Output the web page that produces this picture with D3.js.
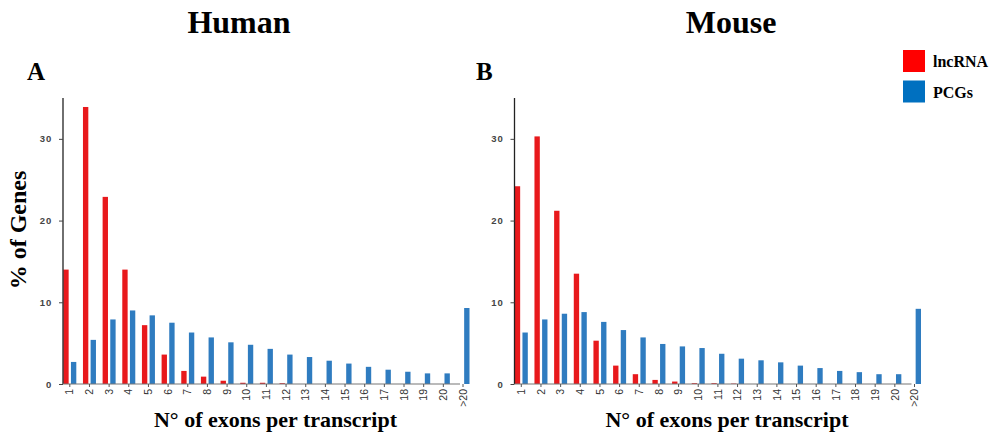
<!DOCTYPE html>
<html>
<head>
<meta charset="utf-8">
<script src="https://cdn.jsdelivr.net/npm/d3@7"></script>
<style>
  body { margin: 0; background: #fff; }
  .serif { font-family: "Liberation Serif", "Times New Roman", serif; font-weight: bold; fill: #000; }
</style>
</head>
<body>
<div class="canvas"></div>
<script>
// data
const categories = ['1','2','3','4','5','6','7','8','9','10','11','12','13','14','15','16','17','18','19','20','>20'];
const humanLnc = [14.0, 33.9, 22.9, 14.0, 7.2, 3.6, 1.6, 0.9, 0.4, 0.15, 0.15, 0.1, 0, 0, 0, 0, 0, 0, 0, 0, 0];
const humanPcg = [2.7, 5.4, 7.9, 9.0, 8.4, 7.5, 6.3, 5.7, 5.1, 4.8, 4.3, 3.6, 3.3, 2.85, 2.5, 2.1, 1.75, 1.5, 1.3, 1.3, 9.3];
const mouseLnc = [24.2, 30.3, 21.2, 13.5, 5.3, 2.25, 1.2, 0.5, 0.3, 0.1, 0.1, 0.05, 0, 0, 0, 0, 0, 0, 0, 0, 0];
const mousePcg = [6.3, 7.9, 8.6, 8.8, 7.6, 6.6, 5.7, 4.9, 4.6, 4.4, 3.7, 3.1, 2.9, 2.65, 2.25, 1.95, 1.6, 1.45, 1.2, 1.2, 9.2];
const yTicks = [0, 10, 20, 30];
const seriesNames = ['lncRNA', 'PCGs'];

const barColors = { lncRNA: '#e8191c', PCGs: '#2f7cc0' };
const legendColors = { lncRNA: '#ff0000', PCGs: '#0070c0' };

const W = 996, H = 434;
const svg = d3.select('.canvas').append('svg')
    .attr('width', W)
    .attr('height', H);

// shared y scale
const y = d3.scaleLinear().domain([0, 35]).range([384, 98]);

const panels = [
    { title: 'Human', letter: 'A', axisX: 63, lnc: humanLnc, pcg: humanPcg, titleX: 239, letterX: 27 },
    { title: 'Mouse', letter: 'B', axisX: 514.5, lnc: mouseLnc, pcg: mousePcg, titleX: 731, letterX: 476 }
];

panels.forEach(p => {
    const step = 19.66;
    const firstCenter = p.axisX + 6.8;
    const x = d3.scaleBand()
        .domain(categories)
        .range([firstCenter - step / 2, firstCenter - step / 2 + step * categories.length])
        .padding(0);
    const inner = d3.scaleBand()
        .domain(seriesNames)
        .range([step / 2 - 6.5, step / 2 + 6.5])
        .paddingInner(0.3);

    const g = svg.append('g');

    // bars
    const rows = categories.map((c, i) => ({ cat: c, lncRNA: p.lnc[i], PCGs: p.pcg[i] }));
    seriesNames.forEach(s => {
        g.selectAll('rect.' + s)
            .data(rows.filter(d => d[s] > 0))
            .enter().append('rect')
            .attr('class', s)
            .attr('x', d => x(d.cat) + inner(s))
            .attr('width', inner.bandwidth())
            .attr('y', d => y(d[s]))
            .attr('height', d => y(0) - y(d[s]))
            .attr('fill', barColors[s]);
    });

    // y axis
    const yAxis = d3.axisLeft(y).tickValues(yTicks).tickSize(4).tickPadding(7);
    const yg = g.append('g').attr('transform', `translate(${p.axisX},0)`).call(yAxis);
    yg.select('.domain').attr('d', `M0,${y(35)}V${y(0)}`).attr('stroke', '#222').attr('stroke-width', 1.3);
    yg.selectAll('.tick line').attr('stroke', '#444');
    yg.selectAll('.tick text')
        .attr('font-family', 'Liberation Sans, Arial, sans-serif')
        .attr('font-weight', 'bold')
        .attr('font-size', 9.5)
        .attr('letter-spacing', 0.8)
        .attr('fill', '#444');

    // x axis
    const xAxis = d3.axisBottom(x).tickSize(3).tickPadding(4);
    const xg = g.append('g').attr('transform', `translate(0,${y(0)})`).call(xAxis);
    const lastX = x(categories[categories.length - 1]) + step / 2 - 3;
    xg.select('.domain').attr('d', `M${p.axisX},0H${lastX}`).attr('stroke', '#777').attr('stroke-width', 1.2);
    xg.selectAll('.tick line').attr('stroke', '#555');
    xg.selectAll('.tick text')
        .attr('font-family', 'Liberation Sans, Arial, sans-serif')
        .attr('font-size', 10.5)
        .attr('fill', '#333')
        .attr('text-anchor', 'end')
        .attr('dy', '0.35em')
        .attr('transform', 'translate(0,5) rotate(-90)')
        .attr('x', 0)
        .attr('y', 0);

    // titles
    svg.append('text').attr('class', 'serif')
        .attr('x', p.titleX).attr('y', 33)
        .attr('text-anchor', 'middle')
        .attr('font-size', 32)
        .text(p.title);
    svg.append('text').attr('class', 'serif')
        .attr('x', p.letterX).attr('y', 80)
        .attr('font-size', 25)
        .text(p.letter);

    // x label
    svg.append('text').attr('class', 'serif')
        .attr('x', (p.axisX + lastX) / 2 + 14).attr('y', 427)
        .attr('text-anchor', 'middle')
        .attr('font-size', 22)
        .text('N° of exons per transcript');
});

// y label (left only)
svg.append('text').attr('class', 'serif')
    .attr('transform', 'translate(26,230) rotate(-90)')
    .attr('text-anchor', 'middle')
    .attr('font-size', 24)
    .text('% of Genes');

// legend
const legend = svg.append('g').attr('transform', 'translate(903,50)');
seriesNames.forEach((s, i) => {
    legend.append('rect')
        .attr('x', 0).attr('y', i * 30.5)
        .attr('width', 22).attr('height', 22)
        .attr('fill', legendColors[s]);
    legend.append('text').attr('class', 'serif')
        .attr('x', 30).attr('y', i * 30.5 + 17)
        .attr('font-size', 16)
        .text(s);
});
</script>
</body>
</html>
